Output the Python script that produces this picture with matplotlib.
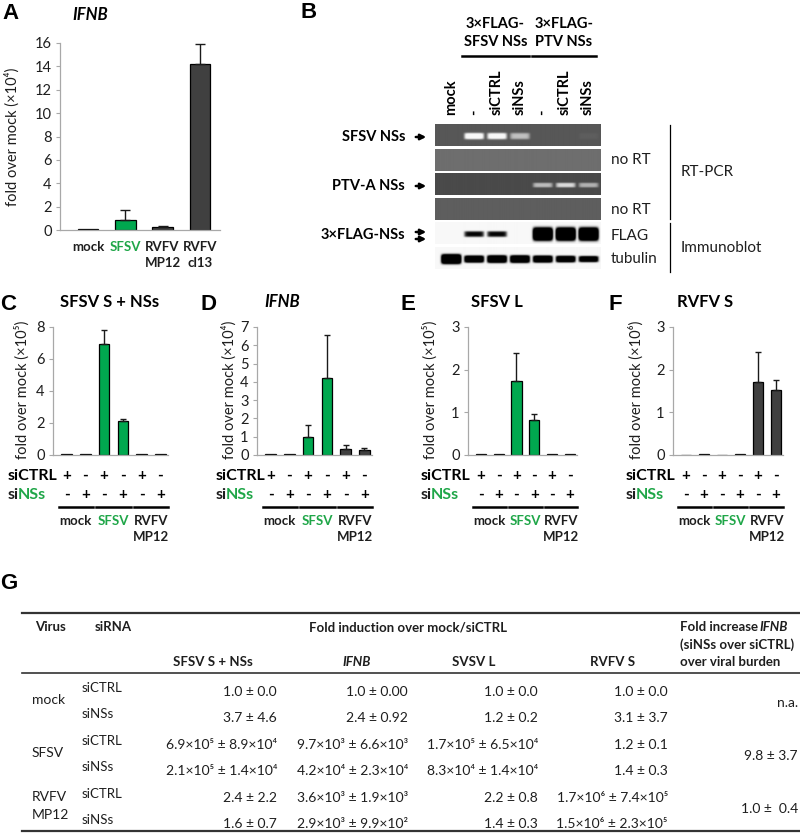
import numpy as np
import matplotlib
matplotlib.use('Agg')
import matplotlib.pyplot as plt
from matplotlib.lines import Line2D
from matplotlib.patches import FancyArrowPatch
from matplotlib.transforms import blended_transform_factory

plt.rcParams['font.family'] = ['Lato', 'DejaVu Sans']

W, H = 800, 833
GREEN = '#00a84f'
GREEN_TXT = '#1fa648'
DARK = '#404040'
AXGRAY = '#a8a8a8'
TXT = '#1e1e1e'

# ---------------- data: panel A
a_cats = ['mock', 'SFSV', 'RVFV\nMP12', 'RVFV\ncl13']
a_vals = [0.1, 0.85, 0.25, 14.2]
a_errs = [0.0, 0.85, 0.08, 1.7]

# ---------------- data: panels C-F
si_ctrl = ['+', '-', '+', '-', '+', '-']
si_nss = ['-', '+', '-', '+', '-', '+']
groups = ['mock', 'SFSV', 'RVFV\nMP12']

c_vals = [0.06, 0.06, 6.95, 2.15, 0.06, 0.06]
c_errs = [0, 0, 0.85, 0.1, 0, 0]
d_vals = [0.05, 0.05, 1.0, 4.22, 0.35, 0.28]
d_errs = [0, 0, 0.62, 2.35, 0.2, 0.1]
e_vals = [0.02, 0.02, 1.73, 0.82, 0.02, 0.02]
e_errs = [0, 0, 0.65, 0.13, 0, 0]
f_vals = [0.0, 0.02, 0.0, 0.02, 1.70, 1.53]
f_errs = [0, 0, 0, 0, 0.72, 0.23]

# ---------------- data: panel B (gel band intensities per lane)
lanes = ['mock', '-', 'siCTRL', 'siNSs', '-', 'siCTRL', 'siNSs']
band_sfsv = [0, 1.0, 0.95, 0.55, 0, 0, 0.04]
band_nort1 = [0, 0, 0, 0, 0, 0, 0]
band_ptv = [0, 0, 0, 0, 0.55, 0.7, 0.5]
band_nort2 = [0, 0, 0, 0, 0, 0, 0]
band_flag = [0, 0.45, 0.45, 0, 1.0, 1.0, 1.0]
band_tub = [1.0, 0.75, 0.8, 0.8, 0.75, 0.7, 0.65]

# ---------------- data: table G
tab_virus = ['mock', 'SFSV', 'RVFV\nMP12']
tab_sirna = ['siCTRL', 'siNSs', 'siCTRL', 'siNSs', 'siCTRL', 'siNSs']
tab_cols = ['SFSV S + NSs', 'IFNB', 'SVSV L', 'RVFV S']
tab_sfsv_s = ['1.0 ± 0.0', '3.7 ± 4.6', '6.9×10⁵ ± 8.9×10⁴',
              '2.1×10⁵ ± 1.4×10⁴', '2.4 ± 2.2', '1.6 ± 0.7']
tab_ifnb = ['1.0 ± 0.00', '2.4 ± 0.92', '9.7×10³ ± 6.6×10³',
            '4.2×10⁴ ± 2.3×10⁴', '3.6×10³ ± 1.9×10³', '2.9×10³ ± 9.9×10²']
tab_sfsv_l = ['1.0 ± 0.0', '1.2 ± 0.2', '1.7×10⁵ ± 6.5×10⁴',
              '8.3×10⁴ ± 1.4×10⁴', '2.2 ± 0.8', '1.4 ± 0.3']
tab_rvfv_s = ['1.0 ± 0.0', '3.1 ± 3.7', '1.2 ± 0.1', '1.4 ± 0.3',
              '1.7×10⁶ ± 7.4×10⁵', '1.5×10⁶ ± 2.3×10⁵']
tab_ratio = ['n.a.', '9.8 ± 3.7', '1.0 ±  0.4']

fig = plt.figure(figsize=(8, 8.33), dpi=100)
renderer = fig.canvas.get_renderer()


def fy(y):
    return 1 - y / H


def px_axes(l, t, r, b):
    return fig.add_axes([l / W, 1 - b / H, (r - l) / W, (b - t) / H])


def ftext(x, y, s, **kw):
    return fig.text(x / W, fy(y), s, **kw)


def fline(x0, x1, y0, y1, **kw):
    fig.add_artist(Line2D([x0 / W, x1 / W], [fy(y0), fy(y1)], **kw))


def seg_text(x, y, parts, **common):
    # draw text pieces one after another with different styles
    for s, kw in parts:
        t = ftext(x, y, s, **common, **kw)
        x += t.get_window_extent(renderer=renderer).width - 1.5


def letter(x, y, s):
    ftext(x, y, s, fontsize=16, fontweight='bold', family='Liberation Sans',
          ha='left', va='top')


def style_axes(ax, ymax, step):
    for sp in ['top', 'right']:
        ax.spines[sp].set_visible(False)
    for sp in ['left', 'bottom']:
        ax.spines[sp].set_color(AXGRAY)
        ax.spines[sp].set_linewidth(0.9)
    ax.set_ylim(0, ymax)
    ax.set_yticks(np.arange(0, ymax + 0.01, step))
    ax.tick_params(axis='y', length=3, color=AXGRAY, labelsize=10.5,
                   labelcolor=TXT, pad=3)
    ax.set_xticks([])


def bars(ax, vals, errs, colors, width, capsize):
    x = np.arange(len(vals))
    ax.bar(x, vals, width=width, color=colors, edgecolor='black',
           linewidth=0.9)
    idx = [i for i in range(len(errs)) if errs[i] > 0]
    ax.errorbar(x[idx], np.array(vals)[idx],
                yerr=[np.zeros(len(idx)), np.array(errs)[idx]],
                fmt='none', ecolor='#1a1a1a', elinewidth=1.0,
                capsize=capsize, capthick=1.0)


# ================= Panel A
letter(2, 3, 'A')
ftext(90, 15, 'IFNB', fontsize=12, fontweight='bold', style='italic',
      ha='center', va='center')
axA = px_axes(60, 43, 220, 230)
bars(axA, a_vals, a_errs, [DARK, GREEN, DARK, DARK], 0.55, 3.5)
style_axes(axA, 16, 2)
axA.set_xlim(-0.75, 3.54)
trA = blended_transform_factory(axA.transData, fig.transFigure)
for i, c in enumerate(a_cats):
    axA.text(i, fy(241), c, transform=trA, ha='center', va='top',
             fontsize=9.5, fontweight='bold', linespacing=1.4,
             color=GREEN_TXT if c == 'SFSV' else TXT)
ftext(12, 137, 'fold over mock (×10⁴)', rotation=90, ha='center',
      va='center', fontsize=10.5, color=TXT)

# ================= Panels C-F
panels = [
    ('C', 0, 'SFSV S + NSs', 'normal', 110, (53, 168), c_vals, c_errs,
     8, 2, '(×10⁵)', 22, 8),
    ('D', 200, 'IFNB', 'italic', 282, (257, 372), d_vals, d_errs,
     7, 1, '(×10⁴)', 229, 216),
    ('E', 400, 'SFSV L', 'normal', 497, (468, 577), e_vals, e_errs,
     3, 1, '(×10⁵)', 430, 421),
    ('F', 608, 'RVFV S', 'normal', 705, (673, 783), f_vals, f_errs,
     3, 1, '(×10⁶)', 636, 626),
]
bar_colors = [DARK, DARK, GREEN, GREEN, DARK, DARK]
for (lt, lx, title, tstyle, tx, (l, r), vals, errs, ymax, step, unit,
     ylx, rlx) in panels:
    letter(lx, 294, lt)
    ftext(tx, 302, title, fontsize=12, fontweight='bold', style=tstyle,
          ha='center', va='center')
    ax = px_axes(l, 327, r, 455)
    bars(ax, vals, errs, bar_colors, 0.57, 2.5)
    style_axes(ax, ymax, step)
    ax.set_xlim(-0.72, 5.4)
    ftext(ylx, 390, 'fold over mock ' + unit, rotation=90, ha='center',
          va='center', fontsize=10.5, color=TXT)
    tr = blended_transform_factory(ax.transData, fig.transFigure)
    for i in range(len(vals)):
        ax.text(i, fy(476), si_ctrl[i], transform=tr, ha='center',
                va='center', fontsize=11, fontweight='bold')
        ax.text(i, fy(495), si_nss[i], transform=tr, ha='center',
                va='center', fontsize=11, fontweight='bold')
    for g, name in enumerate(groups):
        ax.plot([2 * g - 0.42, 2 * g + 1.42], [fy(507), fy(507)],
                transform=tr, color='black', lw=1.8, clip_on=False)
        ax.text(2 * g + 0.5, fy(515), name, transform=tr, ha='center',
                va='top', fontsize=9.5, fontweight='bold', linespacing=1.4,
                color=GREEN_TXT if name == 'SFSV' else TXT)
    ftext(rlx, 476, 'siCTRL', fontsize=11.5, fontweight='bold', va='center')
    seg_text(rlx, 495, [('si', {'color': TXT}), ('NSs', {'color': GREEN_TXT})],
             fontsize=11.5, fontweight='bold', va='center')

# ================= Panel B (gel)
letter(301, 2, 'B')
axB = px_axes(435, 124, 600, 270)
axB.axis('off')
gx0, gx1 = -0.7, 6.53
gel_rows = [
    (band_sfsv, 'rt', 0.34, 0.15),
    (band_nort1, 'rt', 0.43, 0.15),
    (band_ptv, 'rt', 0.29, 0.11),
    (band_nort2, 'rt', 0.37, 0.11),
    (band_flag, 'blot', 0.97, 0.3),
    (band_tub, 'blot', 0.97, 0.22),
]
xs = np.linspace(gx0, gx1, 330)
ys = np.linspace(0, 1, 44)
for k, (inten, kind, bg, bh) in enumerate(gel_rows):
    top = 124 + 24.6 * k
    img = np.full((len(ys), len(xs)), 0.0)
    for i, v in enumerate(inten):
        if v <= 0:
            continue
        hprof = np.exp(-((xs - i) / 0.43) ** 8)
        thick = bh * (v if kind == 'blot' else 1.0)
        vprof = np.exp(-((ys - 0.55) / max(thick, 0.05)) ** 4)
        img = np.maximum(img, v * np.outer(vprof, hprof))
    if kind == 'rt':
        img = bg + (0.97 - bg) * np.clip(img * 1.2, 0, 1)
    else:
        img = bg - bg * np.clip(img * 2.2, 0, 1)
    axB.imshow(img, extent=(gx0, gx1, top + 22, top), cmap='gray', vmin=0,
               vmax=1, aspect='auto', interpolation='bilinear')
axB.set_xlim(gx0, gx1)
axB.set_ylim(270, 124)
for i, s in enumerate(lanes):
    axB.text(i, 115, s, rotation=90, ha='center', va='bottom', fontsize=10.5,
             fontweight='bold', clip_on=False)
for name, lo, hi in [('3×FLAG-\nSFSV NSs', 0.5, 3.4),
                     ('3×FLAG-\nPTV NSs', 3.55, 6.35)]:
    axB.text((lo + hi) / 2, 33, name, ha='center', va='center', fontsize=10.5,
             fontweight='bold', linespacing=1.45, clip_on=False)
    axB.plot([lo, hi], [56, 56], color='black', lw=1.8, clip_on=False)

for s, y in [('SFSV NSs', 137), ('PTV-A NSs', 186), ('3×FLAG-NSs', 235)]:
    ftext(405, y, s, ha='right', va='center', fontsize=10.5, fontweight='bold')
for y in [137, 186, 232, 239]:
    fig.add_artist(FancyArrowPatch((413 / W, fy(y)), (429 / W, fy(y)),
                                   transform=fig.transFigure,
                                   arrowstyle='-|>', mutation_scale=8,
                                   lw=1.8, color='black'))
for s, y in [('no RT', 160), ('no RT', 210), ('FLAG', 236), ('tubulin', 259)]:
    ftext(611, y, s, ha='left', va='center', fontsize=11, color=TXT)
fline(670, 670, 125, 219, color='black', lw=0.9)
fline(670, 670, 223, 272, color='black', lw=0.9)
ftext(681, 172, 'RT-PCR', ha='left', va='center', fontsize=11, color=TXT)
ftext(681, 248, 'Immunoblot', ha='left', va='center', fontsize=11, color=TXT)

# ================= Panel G (table)
letter(0, 573, 'G')
fline(22, 800, 613, 613, color='#333333', lw=1.6)
fline(22, 800, 673, 673, color='#333333', lw=1.2)
fline(22, 800, 831, 831, color='#333333', lw=1.6)
hdr = dict(fontsize=9.5, fontweight='bold', va='center', color=TXT)
ftext(35, 627, 'Virus', ha='left', **hdr)
ftext(95, 627, 'siRNA', ha='left', **hdr)
ftext(408, 627, 'Fold induction over mock/siCTRL', ha='center', **hdr)
seg_text(680, 627, [('Fold increase ', {}), ('IFNB', {'style': 'italic'})],
         **hdr)
ftext(680, 645, '(siNSs over siCTRL)', ha='left', **hdr)
ftext(680, 662, 'over viral burden', ha='left', **hdr)
sub_x = [213, 357, 474, 613]
for x, s in zip(sub_x, tab_cols):
    ftext(x, 662, s, ha='center', style='italic' if s == 'IFNB' else 'normal',
          **hdr)

row_y = [692 + 26.4 * i for i in range(6)]
cell = dict(fontsize=10, va='center', color=TXT)
col_right = [277, 408, 538, 668]
for col, xr in zip([tab_sfsv_s, tab_ifnb, tab_sfsv_l, tab_rvfv_s], col_right):
    for y, s in zip(row_y, col):
        ftext(xr, y, s, ha='right', **cell)
for y, s in zip(row_y, tab_sirna):
    ftext(82, y - 4, s, ha='left', fontsize=9.5, va='center', color=TXT)
for g, s in enumerate(tab_virus):
    ym = (row_y[2 * g] + row_y[2 * g + 1]) / 2
    ftext(32, ym - 5, s, ha='left', linespacing=1.6, **cell)
    ftext(798, ym - 2, tab_ratio[g], ha='right', **cell)

fig.savefig('out.png', dpi=100)
